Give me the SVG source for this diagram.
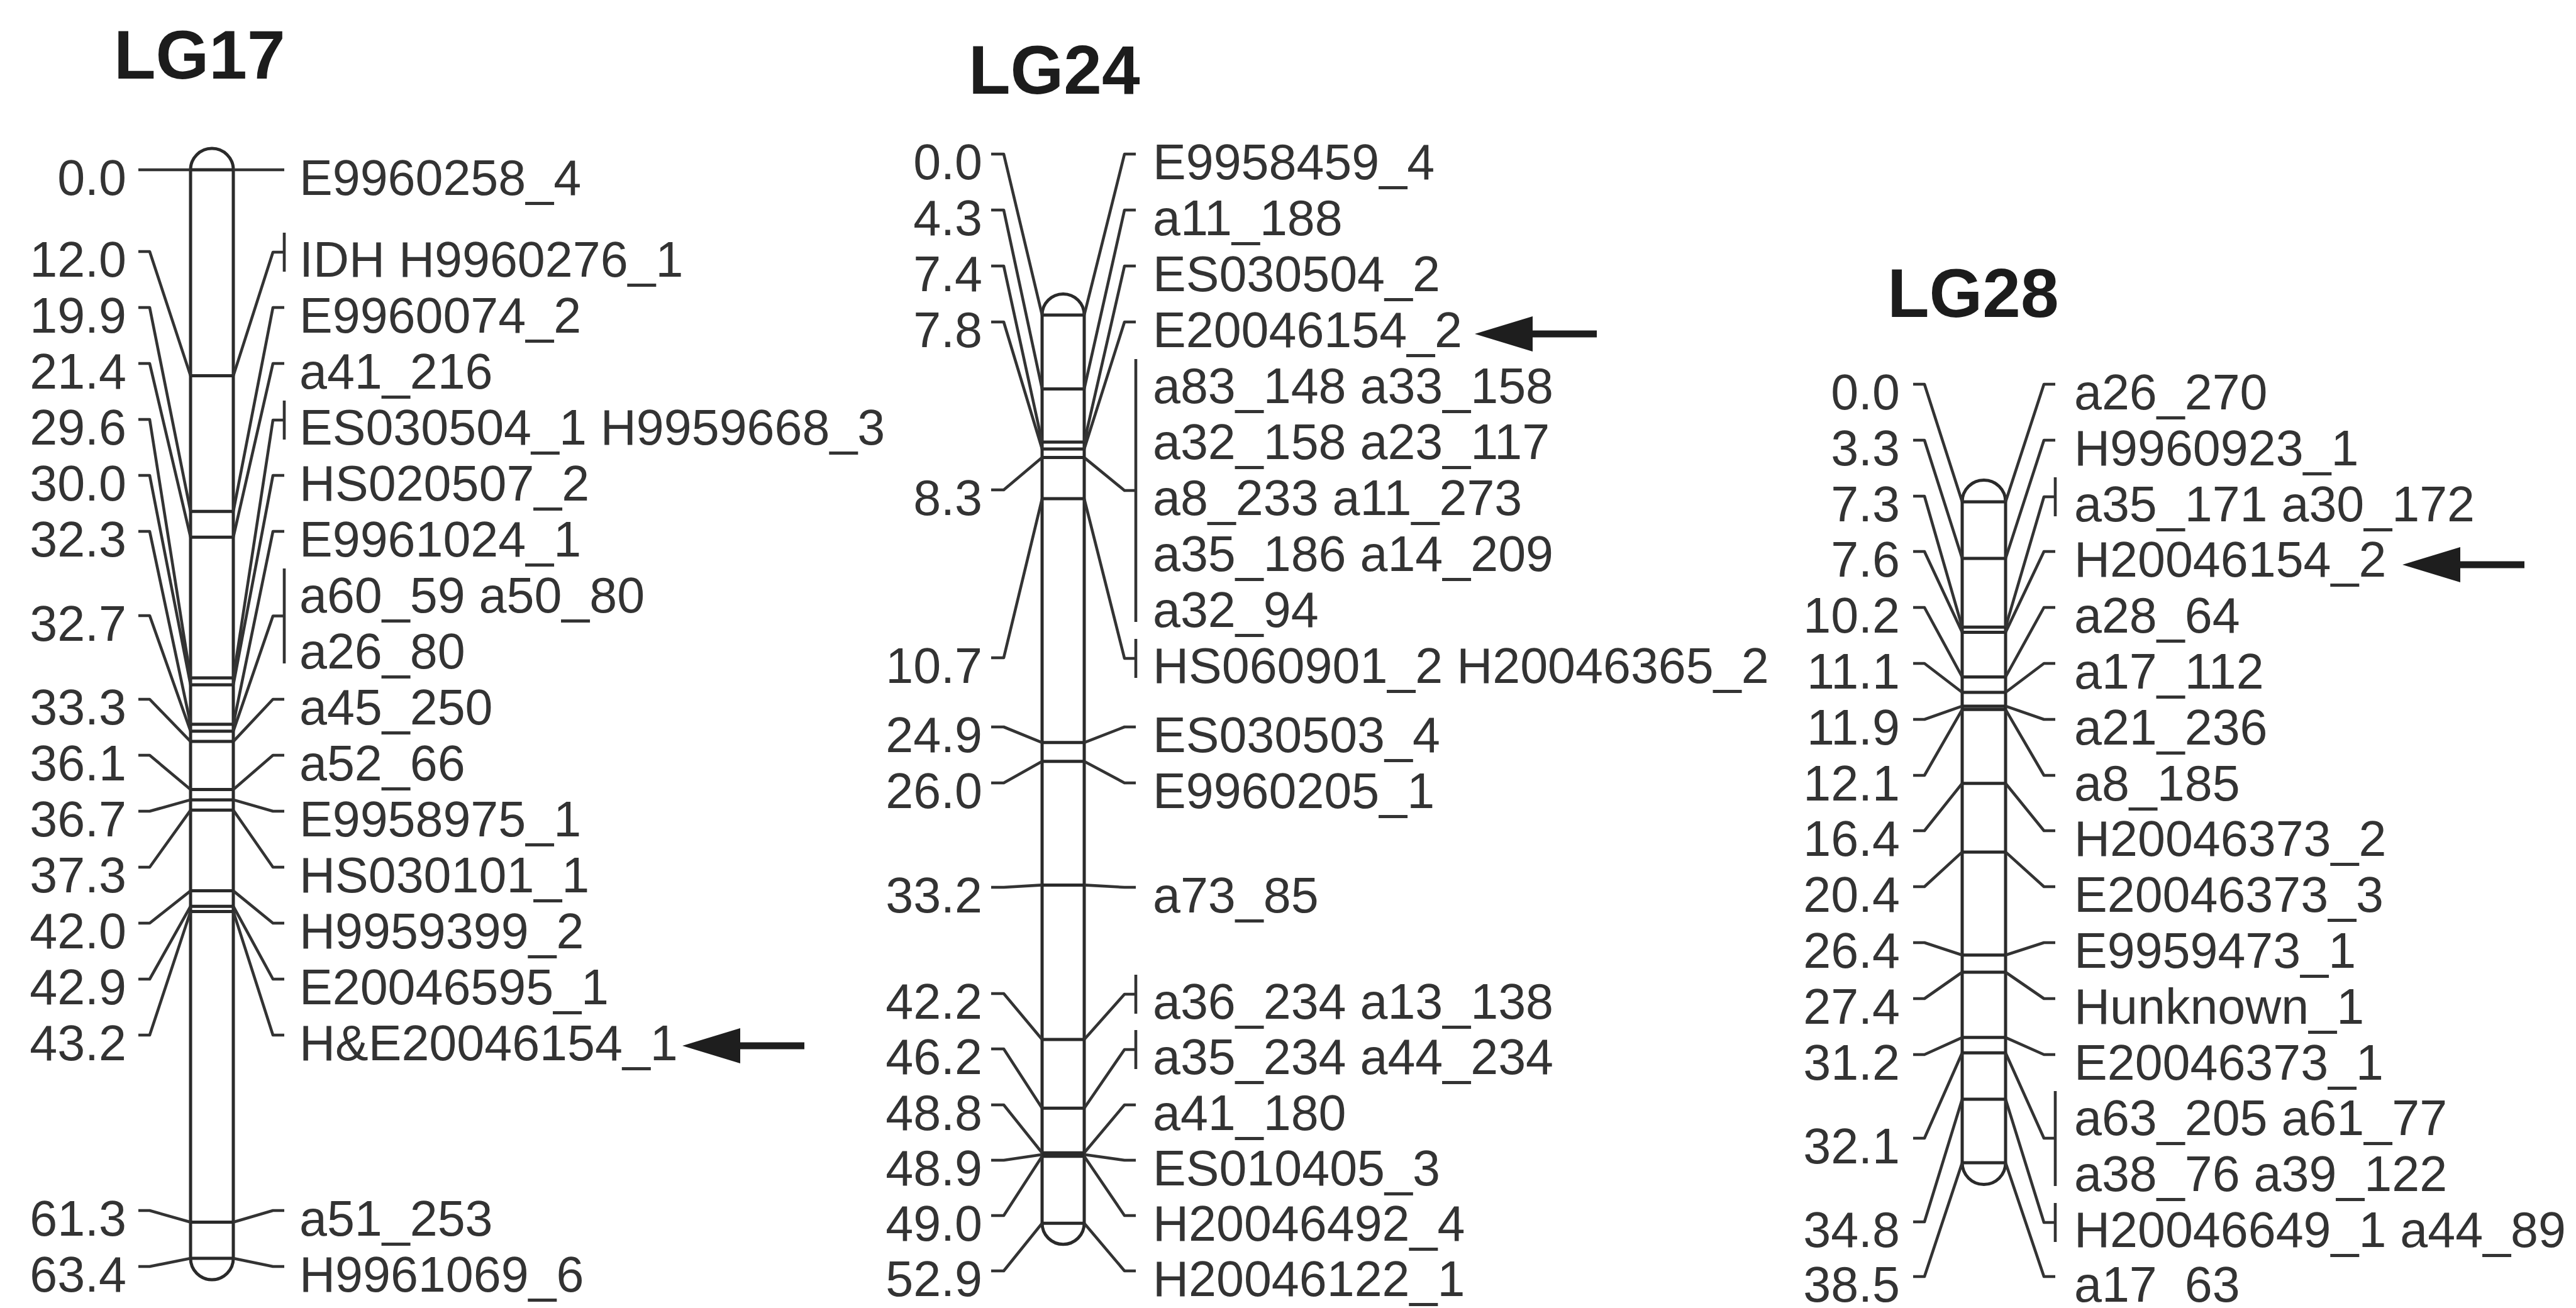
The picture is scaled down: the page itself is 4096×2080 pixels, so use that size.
<svg xmlns="http://www.w3.org/2000/svg" width="4096" height="2080" viewBox="0 0 4096 2080">
<style>
.t{font-family:"Liberation Sans",Arial,sans-serif;font-size:79px;fill:#333}
.n{text-anchor:end}
.h{font-family:"Liberation Sans",Arial,sans-serif;font-size:109px;font-weight:bold;fill:#1c1c1c}
.c{fill:#fff;stroke:#2a2a2a;stroke-width:5}
.b{stroke:#2a2a2a;stroke-width:5;fill:none}
.k{stroke:#333;stroke-width:4.6;fill:none;stroke-linejoin:round}
.a{fill:#1e1e1e}
</style>
<defs>
<g id="arrow"><path class="a" d="M0,0 L92,-28 L92,-5.5 L194,-5.5 L194,5.5 L92,5.5 L92,28 Z"/></g>
</defs>
<rect width="4096" height="2080" fill="#fff"/>

<g id="LG17">
<text class="h" x="181" y="125">LG17</text>
<path class="c" d="M303,270 A34,34 0 0 1 371,270 L371,2001 A34,34 0 0 1 303,2001 Z"/>
<path class="b" d="M303,270H371M303,597.6H371M303,813.3H371M303,854.2H371M303,1078.1H371M303,1089H371M303,1151.8H371M303,1162.7H371M303,1179.1H371M303,1255.5H371M303,1271.9H371M303,1288.3H371M303,1416.6H371M303,1441.2H371M303,1449.4H371M303,1943.5H371M303,2001H371"/>
<g class="t n">
<text x="201" y="310">0.0</text><text x="201" y="440">12.0</text><text x="201" y="529">19.9</text><text x="201" y="618">21.4</text><text x="201" y="707">29.6</text><text x="201" y="796">30.0</text><text x="201" y="885">32.3</text><text x="201" y="1019">32.7</text><text x="201" y="1152">33.3</text><text x="201" y="1241">36.1</text><text x="201" y="1330">36.7</text><text x="201" y="1419">37.3</text><text x="201" y="1508">42.0</text><text x="201" y="1597">42.9</text><text x="201" y="1686">43.2</text><text x="201" y="1965">61.3</text><text x="201" y="2054">63.4</text>
</g>
<g class="t">
<text x="476" y="310">E9960258_4</text><text x="476" y="440">IDH H9960276_1</text><text x="476" y="529">E9960074_2</text><text x="476" y="618">a41_216</text><text x="476" y="707">ES030504_1 H9959668_3</text><text x="476" y="796">HS020507_2</text><text x="476" y="885">E9961024_1</text><text x="476" y="974">a60_59 a50_80</text><text x="476" y="1063">a26_80</text><text x="476" y="1152">a45_250</text><text x="476" y="1241">a52_66</text><text x="476" y="1330">E9958975_1</text><text x="476" y="1419">HS030101_1</text><text x="476" y="1508">H9959399_2</text><text x="476" y="1597">E20046595_1</text><text x="476" y="1686">H&amp;E20046154_1</text><text x="476" y="1965">a51_253</text><text x="476" y="2054">H9961069_6</text>
</g>
</g>

<g id="LG24">
<text class="h" x="1540" y="149">LG24</text>
<path class="c" d="M1657,501 A33.5,33.5 0 0 1 1724,501 L1724,1945.2 A33.5,33.5 0 0 1 1657,1945.2 Z"/>
<path class="b" d="M1657,501H1724M1657,618.4H1724M1657,703H1724M1657,714H1724M1657,727.6H1724M1657,793.1H1724M1657,1180.8H1724M1657,1210.8H1724M1657,1407.4H1724M1657,1653H1724M1657,1762.3H1724M1657,1833.2H1724M1657,1836H1724M1657,1838.7H1724M1657,1945.2H1724"/>
<g class="t n">
<text x="1562" y="285">0.0</text><text x="1562" y="374">4.3</text><text x="1562" y="463">7.4</text><text x="1562" y="552">7.8</text><text x="1562" y="819">8.3</text><text x="1562" y="1086">10.7</text><text x="1562" y="1196">24.9</text><text x="1562" y="1285">26.0</text><text x="1562" y="1451">33.2</text><text x="1562" y="1620">42.2</text><text x="1562" y="1708">46.2</text><text x="1562" y="1797">48.8</text><text x="1562" y="1885">48.9</text><text x="1562" y="1973">49.0</text><text x="1562" y="2061">52.9</text>
</g>
<g class="t">
<text x="1833" y="285">E9958459_4</text><text x="1833" y="374">a11_188</text><text x="1833" y="463">ES030504_2</text><text x="1833" y="552">E20046154_2</text><text x="1833" y="641">a83_148 a33_158</text><text x="1833" y="730">a32_158 a23_117</text><text x="1833" y="819">a8_233 a11_273</text><text x="1833" y="908">a35_186 a14_209</text><text x="1833" y="997">a32_94</text><text x="1833" y="1086">HS060901_2 H20046365_2</text><text x="1833" y="1196">ES030503_4</text><text x="1833" y="1285">E9960205_1</text><text x="1833" y="1451">a73_85</text><text x="1833" y="1620">a36_234 a13_138</text><text x="1833" y="1708">a35_234 a44_234</text><text x="1833" y="1797">a41_180</text><text x="1833" y="1885">ES010405_3</text><text x="1833" y="1973">H20046492_4</text><text x="1833" y="2061">H20046122_1</text>
</g>
</g>

<g id="LG28">
<text class="h" x="3001" y="504">LG28</text>
<path class="c" d="M3120,798 A34.5,34.5 0 0 1 3189,798 L3189,1849 A34.5,34.5 0 0 1 3120,1849 Z"/>
<path class="b" d="M3120,798H3189M3120,888.1H3189M3120,997.3H3189M3120,1005.5H3189M3120,1076.5H3189M3120,1101H3189M3120,1122.9H3189M3120,1128.3H3189M3120,1245.7H3189M3120,1354.9H3189M3120,1518.7H3189M3120,1546H3189M3120,1649.8H3189M3120,1674.3H3189M3120,1748H3189M3120,1849H3189"/>
<g class="t n">
<text x="3021" y="651">0.0</text><text x="3021" y="740">3.3</text><text x="3021" y="829">7.3</text><text x="3021" y="917">7.6</text><text x="3021" y="1006">10.2</text><text x="3021" y="1095">11.1</text><text x="3021" y="1184">11.9</text><text x="3021" y="1273">12.1</text><text x="3021" y="1361">16.4</text><text x="3021" y="1450">20.4</text><text x="3021" y="1539">26.4</text><text x="3021" y="1628">27.4</text><text x="3021" y="1717">31.2</text><text x="3021" y="1850">32.1</text><text x="3021" y="1983">34.8</text><text x="3021" y="2070">38.5</text>
</g>
<g class="t">
<text x="3298" y="651">a26_270</text><text x="3298" y="740">H9960923_1</text><text x="3298" y="829">a35_171 a30_172</text><text x="3298" y="917">H20046154_2</text><text x="3298" y="1006">a28_64</text><text x="3298" y="1095">a17_112</text><text x="3298" y="1184">a21_236</text><text x="3298" y="1273">a8_185</text><text x="3298" y="1361">H20046373_2</text><text x="3298" y="1450">E20046373_3</text><text x="3298" y="1539">E9959473_1</text><text x="3298" y="1628">Hunknown_1</text><text x="3298" y="1717">E20046373_1</text><text x="3298" y="1805">a63_205 a61_77</text><text x="3298" y="1894">a38_76 a39_122</text><text x="3298" y="1983">H20046649_1 a44_89</text><text x="3298" y="2070">a17_63</text>
</g>
</g>

<g id="connectors">
<path class="k" d="M220,270H238L303,270M220,400H238L303,597.6M220,489H238L303,813.3M220,578H238L303,854.2M220,667H238L303,1078.1M220,756H238L303,1089M220,845H238L303,1151.8M220,979H238L303,1162.7M220,1112H238L303,1179.1M220,1201H238L303,1255.5M220,1290H238L303,1271.9M220,1379H238L303,1288.3M220,1468H238L303,1416.6M220,1557H238L303,1441.2M220,1646H238L303,1449.4M220,1925H238L303,1943.5M220,2014H238L303,2001"/>
<path class="k" d="M371,270L434,270H452M371,597.6L434,401H452M452,370V432M371,813.3L434,489H452M371,854.2L434,578H452M371,1078.1L434,668H452M452,637V699M371,1089L434,756H452M371,1151.8L434,845H452M371,1162.7L434,979.5H452M452,904V1055M371,1179.1L434,1112H452M371,1255.5L434,1201H452M371,1271.9L434,1290H452M371,1288.3L434,1379H452M371,1416.6L434,1468H452M371,1441.2L434,1557H452M371,1449.4L434,1646H452M371,1943.5L434,1925H452M371,2001L434,2014H452"/>
<path class="k" d="M1576,245H1596L1657,501M1576,334H1596L1657,618.4M1576,423H1596L1657,703M1576,512H1596L1657,714M1576,779H1596L1657,727.6M1576,1046H1596L1657,793.1M1576,1156H1596L1657,1180.8M1576,1245H1596L1657,1210.8M1576,1411H1596L1657,1407.4M1576,1580H1596L1657,1653M1576,1668H1596L1657,1762.3M1576,1757H1596L1657,1833.2M1576,1845H1596L1657,1836M1576,1933H1596L1657,1838.7M1576,2021H1596L1657,1945.2"/>
<path class="k" d="M1724,501L1788,245H1806M1724,618.4L1788,334H1806M1724,703L1788,423H1806M1724,714L1788,512H1806M1724,727.6L1788,780H1806M1806,571V989M1724,793.1L1788,1047H1806M1806,1016V1078M1724,1180.8L1788,1156H1806M1724,1210.8L1788,1245H1806M1724,1407.4L1788,1411H1806M1724,1653L1788,1581H1806M1806,1550V1612M1724,1762.3L1788,1669H1806M1806,1638V1700M1724,1833.2L1788,1757H1806M1724,1836L1788,1845H1806M1724,1838.7L1788,1933H1806M1724,1945.2L1788,2021H1806"/>
<path class="k" d="M3042,611H3060L3120,798M3042,700H3060L3120,888.1M3042,789H3060L3120,997.3M3042,877H3060L3120,1005.5M3042,966H3060L3120,1076.5M3042,1055H3060L3120,1101M3042,1144H3060L3120,1122.9M3042,1233H3060L3120,1128.3M3042,1321H3060L3120,1245.7M3042,1410H3060L3120,1354.9M3042,1499H3060L3120,1518.7M3042,1588H3060L3120,1546M3042,1677H3060L3120,1649.8M3042,1810H3060L3120,1674.3M3042,1943H3060L3120,1748M3042,2030H3060L3120,1849"/>
<path class="k" d="M3189,798L3250,611H3268M3189,888.1L3250,700H3268M3189,997.3L3250,790H3268M3268,759V821M3189,1005.5L3250,877H3268M3189,1076.5L3250,966H3268M3189,1101L3250,1055H3268M3189,1122.9L3250,1144H3268M3189,1128.3L3250,1233H3268M3189,1245.7L3250,1321H3268M3189,1354.9L3250,1410H3268M3189,1518.7L3250,1499H3268M3189,1546L3250,1588H3268M3189,1649.8L3250,1677H3268M3189,1674.3L3250,1810H3268M3268,1735V1886M3189,1748L3250,1944H3268M3268,1913V1975M3189,1849L3250,2030H3268"/>
<use href="#arrow" x="1085" y="1663"/>
<use href="#arrow" x="2345" y="531"/>
<use href="#arrow" x="3820" y="898"/>
</g>
</svg>
